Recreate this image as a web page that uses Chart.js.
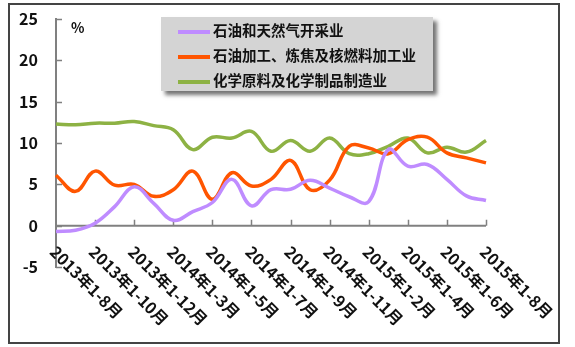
<!DOCTYPE html>
<html>
<head>
<meta charset="utf-8">
<script src="https://cdn.jsdelivr.net/npm/chart.js@4.4.1/dist/chart.umd.min.js"></script>
<style>
    body { margin: 0; background: #fff; }
    #wrap { position: relative; width: 575px; height: 347px; }
    #frame { position: absolute; left: 8px; top: 3px; width: 548px; height: 337px; border: 2px solid #444; }
    #legend {
        position: absolute; left: 161px; top: 17px; width: 272px; height: 74px;
        background: #d4d4d4; box-shadow: 4px 4px 4px rgba(0, 0, 0, 0.55);
        font-family: "Noto Sans CJK SC", sans-serif; font-weight: bold; font-size: 14.5px; color: #111;
    }
    .item { position: absolute; left: 17px; height: 20px; line-height: 20px; white-space: nowrap; }
    .item i { display: inline-block; width: 32px; height: 3.5px; vertical-align: middle; margin-right: 3px; }
    #unit { position: absolute; left: 71px; top: 17px; font: bold 14px "Noto Sans CJK SC", sans-serif; color: #111; }
</style>
</head>
<body>
<div id="wrap">
    <canvas id="chart" width="575" height="347"></canvas>
    <div id="frame"></div>
    <div id="unit">%</div>
    <div id="legend"></div>
</div>
<script>
    const months = [
        '2013年1-8月', '2013年1-9月', '2013年1-10月', '2013年1-11月', '2013年1-12月',
        '2014年1-2月', '2014年1-3月', '2014年1-4月', '2014年1-5月', '2014年1-6月',
        '2014年1-7月', '2014年1-8月', '2014年1-9月', '2014年1-10月', '2014年1-11月',
        '2014年1-12月', '2015年1-2月', '2015年1-3月', '2015年1-4月', '2015年1-5月',
        '2015年1-6月', '2015年1-7月', '2015年1-8月'
    ];

    const oilGas = [-0.7, -0.55, 0.3, 2.3, 4.7, 2.7, 0.65, 1.7, 2.8, 5.6, 2.4, 4.35,
        4.4, 5.5, 4.55, 3.5, 2.9, 9.2, 7.2, 7.4, 5.6, 3.6, 3.05];
    const refining = [6.1, 4.15, 6.6, 4.9, 5.0, 3.55, 4.35, 6.6, 3.2, 6.4, 4.8, 5.6,
        7.9, 4.35, 5.5, 9.6, 9.4, 8.7, 10.4, 10.7, 8.8, 8.2, 7.6];
    const chemical = [12.3, 12.2, 12.4, 12.4, 12.6, 12.1, 11.6, 9.2, 10.7, 10.6, 11.4, 9.0,
        10.3, 9.0, 10.6, 8.7, 8.7, 9.6, 10.6, 8.8, 9.5, 8.9, 10.3];

    const seriesNames = ['石油和天然气开采业', '石油加工、炼焦及核燃料加工业', '化学原料及化学制品制造业'];
    const seriesColors = ['#bf8cff', '#ff5500', '#8db244'];
    const yTicks = [-5, 0, 5, 10, 15, 20, 25];

    const font = '"Noto Sans CJK SC", sans-serif';

    // axis line at zero, inner tick marks and slanted month labels
    const axesPlugin = {
        id: 'axes',
        beforeDatasetsDraw(chart) {
            const {ctx, chartArea} = chart;
            const x = chart.scales.x;
            const y = chart.scales.y;
            const y0 = y.getPixelForValue(0);
            ctx.save();
            ctx.strokeStyle = '#808080';
            ctx.lineWidth = 2;
            ctx.beginPath();
            ctx.moveTo(chartArea.left, y0);
            ctx.lineTo(x.getPixelForValue(months.length - 1), y0);
            ctx.stroke();
            ctx.lineWidth = 1.5;
            ctx.beginPath();
            yTicks.forEach(v => {
                const py = Math.round(y.getPixelForValue(v)) + 0.5;
                ctx.moveTo(chartArea.left, py);
                ctx.lineTo(chartArea.left + 6, py);
            });
            for (let i = 2; i < months.length; i += 2) {
                const px = Math.round(x.getPixelForValue(i)) + 0.5;
                ctx.moveTo(px, y0);
                ctx.lineTo(px, y0 - 6);
            }
            ctx.stroke();
            ctx.restore();
        },
        afterDraw(chart) {
            const {ctx} = chart;
            const x = chart.scales.x;
            const top = chart.chartArea.bottom - 18;
            ctx.save();
            ctx.fillStyle = '#111';
            ctx.font = 'bold 16px ' + font;
            ctx.textAlign = 'left';
            ctx.textBaseline = 'middle';
            for (let i = 0; i < months.length; i += 2) {
                const px = x.getPixelForValue(i);
                ctx.save();
                ctx.translate(px - 3, top);
                ctx.rotate(Math.PI / 4);
                ctx.fillText(months[i], 0, 0);
                ctx.restore();
            }
            ctx.restore();
        }
    };

    const makeSet = (label, data, color) => ({
        label: label,
        data: data,
        borderColor: color,
        backgroundColor: color,
        borderWidth: 3.5,
        pointRadius: 0,
        tension: 0.4,
        fill: false,
    });

    new Chart(document.getElementById('chart'), {
        type: 'line',
        data: {
            labels: months,
            datasets: [
                makeSet(seriesNames[0], oilGas, seriesColors[0]),
                makeSet(seriesNames[1], refining, seriesColors[1]),
                makeSet(seriesNames[2], chemical, seriesColors[2]),
            ],
        },
        options: {
            responsive: false,
            animation: false,
            layout: {
                padding: {top: 19, right: 89, left: 0, bottom: 0},
            },
            scales: {
                x: {
                    offset: false,
                    grid: {display: false, drawTicks: false},
                    border: {display: false},
                    ticks: {display: false},
                    afterFit(scale) { scale.height = 80; },
                },
                y: {
                    min: -5,
                    max: 25,
                    grid: {display: false, drawTicks: false},
                    border: {display: true, color: '#808080', width: 2},
                    afterFit(scale) {
                        scale.width = 56;
                        scale.paddingTop = 0;
                        scale.paddingBottom = 0;
                    },
                    afterBuildTicks(scale) { scale.ticks = yTicks.map(v => ({value: v})); },
                    ticks: {
                        padding: 18,
                        color: '#111',
                        font: {family: font, size: 16, weight: 'bold'},
                    },
                },
            },
            plugins: {
                legend: {display: false},
                tooltip: {enabled: false},
            },
        },
        plugins: [axesPlugin],
    });

    // legend box sits over the chart, like the original
    const legend = document.getElementById('legend');
    seriesNames.forEach((name, i) => {
        const row = document.createElement('div');
        row.className = 'item';
        row.style.top = (3 + i * 25) + 'px';
        row.innerHTML = '<i style="background:' + seriesColors[i] + '"></i>' + name;
        legend.appendChild(row);
    });
</script>
</body>
</html>
